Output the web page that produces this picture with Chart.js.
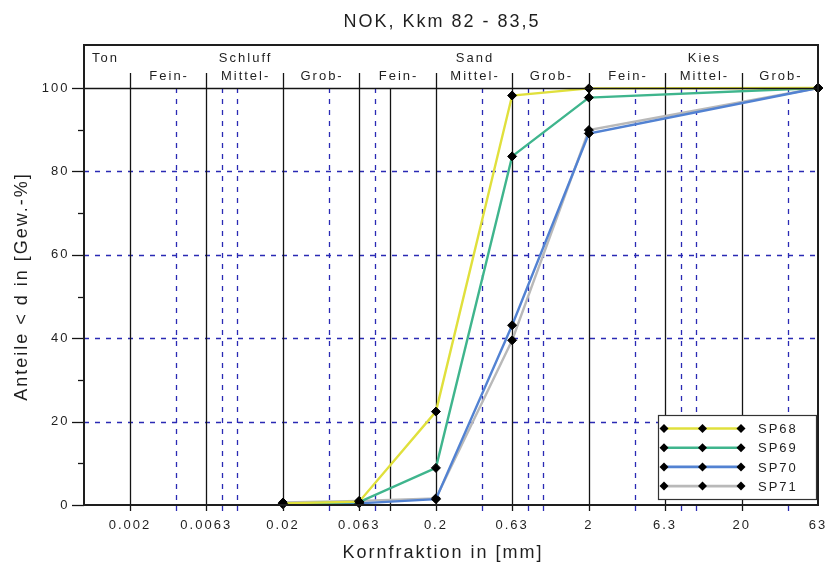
<!DOCTYPE html>
<html>
<head>
<meta charset="utf-8">
<script src="https://cdn.jsdelivr.net/npm/chart.js@4/dist/chart.umd.min.js"></script>
<style>
  html, body { margin: 0; padding: 0; background: #ffffff; }
  canvas { display: block; }
</style>
</head>
<body>
<canvas id="chart" width="827" height="568"></canvas>
<script>
// Sieve sizes in mm at which the passing percentages were determined
const sieveSizes = [0.02, 0.063, 0.2, 0.63, 2, 63];

// Cumulative passing [%] for each sample
const sp68 = [0.4, 0.8, 22.4, 98.2, 99.9, 100];
const sp69 = [0.3, 0.7, 8.9, 83.6, 97.7, 100];
const sp70 = [0.2, 0.4, 1.4, 43.1, 89.1, 100];
const sp71 = [0.6, 1.0, 1.6, 39.5, 89.9, 100];

const seriesNames = ['SP68', 'SP69', 'SP70', 'SP71'];
const seriesValues = [sp68, sp69, sp70, sp71];
const seriesColors = ['#e0e03c', '#3fb58d', '#5282d2', '#b9b9b9'];

// Axis ticks
const xTickValues = [0.002, 0.0063, 0.02, 0.063, 0.2, 0.63, 2, 6.3, 20, 63];
const xTickLabels = ['0.002', '0.0063', '0.02', '0.063', '0.2', '0.63', '2', '6.3', '20', '63'];
const yMajorTicks = [0, 20, 40, 60, 80, 100];
const yMinorTicks = [10, 30, 50, 70, 90];

// Grid lines of the grain size sheet
const solidGridX = [0.002, 0.0063, 0.02, 0.063, 0.1, 0.2, 0.63, 2, 6.3, 20];
const dashedGridX = [0.004, 0.008, 0.01, 0.04, 0.08, 0.4, 0.8, 1, 4, 8, 10, 40];
const dashedGridY = [20, 40, 60, 80];

// Soil classification band (DIN 4022)
const soilGroups = ['Ton', 'Schluff', 'Sand', 'Kies'];
const fractionNames = ['Fein-', 'Mittel-', 'Grob-'];
const fractionBounds = [0.001, 0.002, 0.0063, 0.02, 0.063, 0.2, 0.63, 2, 6.3, 20, 63];

const titleText = 'NOK, Kkm 82 - 83,5';
const xTitleText = 'Kornfraktion in [mm]';
const yTitleText = 'Anteile < d in [Gew.-%]';

const FONT = "'Liberation Sans', Arial, sans-serif";
const TEXT = '#1f1f1f';
const LINE = '#141414';
const BLUE = '#2a2ab4';

function text(ctx, str, x, y, size, align, spacing) {
  ctx.save();
  ctx.font = size + 'px ' + FONT;
  ctx.letterSpacing = spacing + 'px';
  ctx.fillStyle = TEXT;
  ctx.textAlign = align;
  ctx.textBaseline = 'alphabetic';
  ctx.fillText(str, x + (align === 'center' ? spacing / 2 : 0), y);
  ctx.restore();
}

const sheetPlugin = {
  id: 'sheet',
  beforeDraw(chart) {
    // wide letter spacing for the axis tick labels as well
    chart.ctx.letterSpacing = '2px';
  },
  beforeDatasetsDraw(chart) {
    const ctx = chart.ctx;
    const a = chart.chartArea;
    const xs = chart.scales.x, ys = chart.scales.y;
    ctx.save();
    // horizontal dashed lines
    ctx.strokeStyle = BLUE;
    ctx.lineWidth = 1.3;
    ctx.setLineDash([5, 6]);
    dashedGridY.forEach(v => {
      const y = Math.round(ys.getPixelForValue(v)) + 0.5;
      ctx.beginPath(); ctx.moveTo(a.left, y); ctx.lineTo(a.right, y); ctx.stroke();
    });
    // vertical dashed lines
    dashedGridX.forEach(v => {
      const x = Math.round(xs.getPixelForValue(v)) + 0.5;
      ctx.beginPath(); ctx.moveTo(x, a.top); ctx.lineTo(x, a.bottom); ctx.stroke();
    });
    // vertical solid lines
    ctx.setLineDash([]);
    ctx.strokeStyle = LINE;
    ctx.lineWidth = 1.3;
    solidGridX.forEach(v => {
      const x = Math.round(xs.getPixelForValue(v)) + 0.5;
      ctx.beginPath(); ctx.moveTo(x, a.top); ctx.lineTo(x, a.bottom); ctx.stroke();
    });
    ctx.restore();
  },
  afterDatasetsDraw(chart) {
    const ctx = chart.ctx;
    const a = chart.chartArea;
    const xs = chart.scales.x, ys = chart.scales.y;
    const headerTop = a.top - 43;
    ctx.save();
    ctx.setLineDash([]);

    // ticks below the x axis
    ctx.lineWidth = 1.3;
    solidGridX.concat(dashedGridX).forEach((v, i) => {
      const x = Math.round(xs.getPixelForValue(v)) + 0.5;
      ctx.strokeStyle = i < solidGridX.length ? LINE : BLUE;
      ctx.beginPath(); ctx.moveTo(x, a.bottom); ctx.lineTo(x, a.bottom + 6); ctx.stroke();
    });
    // y axis ticks
    ctx.strokeStyle = LINE;
    yMajorTicks.forEach(v => {
      const y = Math.round(ys.getPixelForValue(v)) + 0.5;
      ctx.beginPath(); ctx.moveTo(a.left - 12, y); ctx.lineTo(a.left, y); ctx.stroke();
    });
    yMinorTicks.forEach(v => {
      const y = Math.round(ys.getPixelForValue(v)) + 0.5;
      ctx.beginPath(); ctx.moveTo(a.left - 6, y); ctx.lineTo(a.left, y); ctx.stroke();
    });

    // header band: line at 100 % and class separators
    ctx.lineWidth = 1.5;
    ctx.beginPath(); ctx.moveTo(a.left, a.top + 0.5); ctx.lineTo(a.right, a.top + 0.5); ctx.stroke();
    ctx.lineWidth = 1.3;
    fractionBounds.slice(1, -1).forEach(v => {
      const x = Math.round(xs.getPixelForValue(v)) + 0.5;
      ctx.beginPath(); ctx.moveTo(x, a.top - 15); ctx.lineTo(x, a.top); ctx.stroke();
    });

    // outer frame
    ctx.lineWidth = 2;
    ctx.strokeStyle = '#1e1e1e';
    ctx.strokeRect(a.left, headerTop, a.right - a.left, a.bottom - headerTop);

    // header labels
    const cx = (lo, hi) => xs.getPixelForValue(Math.sqrt(lo * hi));
    text(ctx, soilGroups[0], xs.getPixelForValue(fractionBounds[0]) + 8, a.top - 26, 13, 'left', 2);
    for (let g = 0; g < 3; g++) {
      const b = 1 + g * 3;
      text(ctx, soilGroups[g + 1], cx(fractionBounds[b + 1], fractionBounds[b + 2]), a.top - 26, 13, 'center', 2);
      for (let f = 0; f < 3; f++) {
        text(ctx, fractionNames[f], cx(fractionBounds[b + f], fractionBounds[b + f + 1]), a.top - 8.5, 13, 'center', 2);
      }
    }

    // legend
    const lx = a.right - 160, ly = a.bottom - 90, lw = 158, lh = 84;
    ctx.fillStyle = '#ffffff';
    ctx.fillRect(lx, ly, lw, lh);
    ctx.lineWidth = 1.2;
    ctx.strokeStyle = '#333333';
    ctx.strokeRect(lx + 0.5, ly + 0.5, lw, lh);
    chart.data.datasets.forEach((ds, i) => {
      const y = ly + 13.5 + i * 19.2;
      const x0 = lx + 6, x1 = lx + 83;
      ctx.strokeStyle = ds.borderColor;
      ctx.lineWidth = 2.6;
      ctx.beginPath(); ctx.moveTo(x0, y); ctx.lineTo(x1, y); ctx.stroke();
      [x0, (x0 + x1) / 2, x1].forEach(mx => {
        ctx.fillStyle = '#000000';
        ctx.beginPath();
        ctx.moveTo(mx, y - 4.5); ctx.lineTo(mx + 4.5, y); ctx.lineTo(mx, y + 4.5); ctx.lineTo(mx - 4.5, y);
        ctx.closePath(); ctx.fill();
      });
      text(ctx, ds.label, lx + 100, y + 4.7, 13, 'left', 2);
    });

    // titles
    text(ctx, titleText, 441, 27, 18, 'center', 2);
    text(ctx, xTitleText, 442, 558, 18, 'center', 2);
    ctx.save();
    ctx.translate(27, 287.5);
    ctx.rotate(-Math.PI / 2);
    text(ctx, yTitleText, 0, 0, 18, 'center', 2);
    ctx.restore();

    ctx.restore();
  }
};

const datasets = seriesNames.map((name, i) => ({
  label: name,
  data: sieveSizes.map((d, j) => ({ x: d, y: seriesValues[i][j] })),
  borderColor: seriesColors[i],
  backgroundColor: seriesColors[i],
  borderWidth: 2.4,
  tension: 0,
  pointStyle: 'rectRot',
  pointRadius: 4.5,
  pointBackgroundColor: '#000000',
  pointBorderColor: '#000000',
  pointBorderWidth: 1,
  clip: false
}));

new Chart(document.getElementById('chart'), {
  type: 'line',
  data: { datasets },
  plugins: [sheetPlugin],
  options: {
    responsive: false,
    animation: false,
    devicePixelRatio: 1,
    layout: { padding: { top: 88, right: 9, left: 0, bottom: 0 } },
    plugins: {
      legend: { display: false },
      tooltip: { enabled: false },
      title: { display: false }
    },
    scales: {
      x: {
        type: 'logarithmic',
        bounds: 'data',
        min: 0.001,
        max: 63,
        grid: { display: false, drawTicks: false },
        border: { display: false },
        afterBuildTicks: axis => { axis.ticks = xTickValues.map(v => ({ value: v })); },
        afterFit: axis => { axis.height = 63; axis.paddingLeft = 0; axis.paddingRight = 0; },
        ticks: {
          autoSkip: false,
          maxRotation: 0,
          minRotation: 0,
          padding: 12.5,
          color: TEXT,
          font: { family: FONT, size: 13 },
          callback: (value, index) => xTickLabels[index]
        }
      },
      y: {
        type: 'linear',
        min: 0,
        max: 100,
        grid: { display: false, drawTicks: false },
        border: { display: false },
        afterBuildTicks: axis => { axis.ticks = yMajorTicks.map(v => ({ value: v })); },
        afterFit: axis => { axis.width = 84; axis.paddingTop = 0; axis.paddingBottom = 0; },
        ticks: {
          padding: 14.5,
          color: TEXT,
          font: { family: FONT, size: 13 },
          callback: value => String(value)
        }
      }
    }
  }
});
</script>
</body>
</html>
